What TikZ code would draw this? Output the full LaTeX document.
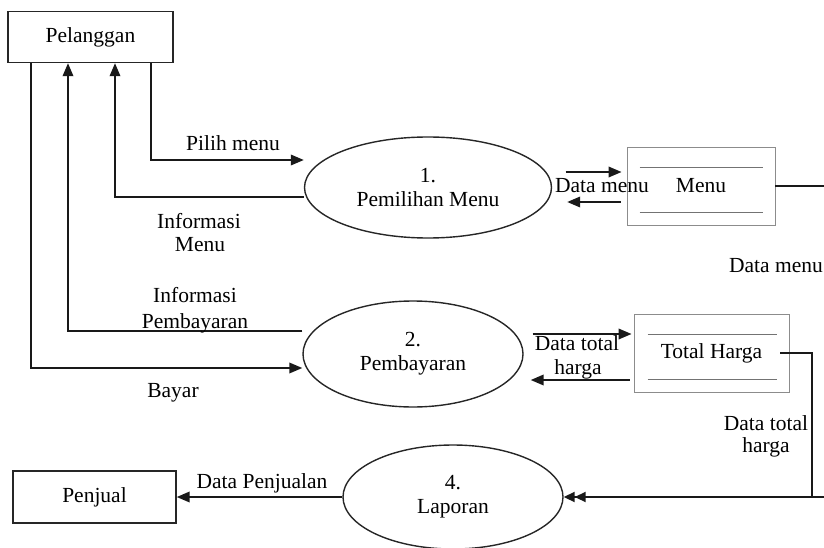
\documentclass[tikz,border=0pt]{standalone}
\usepackage{fontspec}
\setmainfont{Liberation Serif}
\usetikzlibrary{shapes.geometric,arrows.meta}
\newcommand\dfdfont{\fontsize{21.5}{24}\selectfont}
\begin{document}
\begin{tikzpicture}[x=1pt,y=-1pt,
  ent/.style={draw=black!85, line width=1.4pt, inner sep=0pt, font=\dfdfont},
  proc/.style={ellipse, draw=black!85, line width=1.4pt, align=center, inner sep=0pt, font=\dfdfont},
  store/.style={draw=black!45, line width=0.8pt, inner sep=0pt, font=\dfdfont},
  sline/.style={draw=black!55, line width=1.4pt},
  flow/.style={line width=1.9pt, draw=black!90},
  arr/.style={flow, -{Triangle[length=13pt,width=10.5pt]}},
  lbl/.style={anchor=base, inner sep=0pt, font=\dfdfont}
]
\useasboundingbox (0,0) rectangle (824,548);

% entities
\node[ent, minimum width=165pt, minimum height=51pt] (pel) at (90.5,37) {Pelanggan};
\node[ent, minimum width=163pt, minimum height=52pt] (pen) at (94.5,497) {Penjual};

% processes
\node[proc, minimum width=247pt, minimum height=101pt] (e1) at (428,187.5) {1.\\Pemilihan Menu};
\node[proc, minimum width=220pt, minimum height=106pt] (e2) at (413,354) {2.\\Pembayaran};
\node[proc, minimum width=220pt, minimum height=104pt] (e4) at (453,497) {4.\\Laporan};

% data stores
\node[store, minimum width=148pt, minimum height=78pt] (menu) at (701,186) {Menu};
\draw[sline] ([xshift=13pt,yshift=-21pt]menu.north west) -- ([xshift=-12pt,yshift=-21pt]menu.north east);
\draw[sline] ([xshift=13pt,yshift=13pt]menu.south west) -- ([xshift=-12pt,yshift=13pt]menu.south east);

\node[store, minimum width=155pt, minimum height=78pt] (th) at (711.5,353) {Total Harga};
\draw[sline] ([xshift=14pt,yshift=-21pt]th.north west) -- ([xshift=-12pt,yshift=-21pt]th.north east);
\draw[sline] ([xshift=14pt,yshift=13pt]th.south west) -- ([xshift=-12pt,yshift=13pt]th.south east);

% flows Pelanggan <-> processes
\draw[arr] (pel.south -| 151,0) |- ([yshift=27.5pt]e1.west);
\draw[arr] ([yshift=-9.5pt]e1.west) -| (pel.south -| 115,0);
\draw[arr] ([yshift=23pt]e2.west) -| (pel.south -| 68,0);
\draw[arr] (pel.south -| 31,0) |- ([yshift=-14pt]e2.west);

% flows with Menu store
\draw[arr] ([xshift=13.5pt,yshift=15.5pt]e1.east) -- ([xshift=-5pt,yshift=14pt]menu.west);
\draw[arr] ([xshift=-6pt,yshift=-16pt]menu.west) -- ([xshift=15pt,yshift=-14.5pt]e1.east);

% flows with Total Harga store
\draw[arr] ([xshift=9pt,yshift=20pt]e2.east) -- ([xshift=-2pt,yshift=19pt]th.west);
\draw[arr] ([xshift=-4pt,yshift=-27pt]th.west) -- ([xshift=7pt,yshift=-26pt]e2.east);

% flows into Laporan
\coordinate (off) at (850,497);
\coordinate (j) at (812,497);
\draw[flow] (menu.east) -| (off);
\draw[flow] ([xshift=-9pt]th.east) -| (j);
\draw[flow, -{Triangle[length=11pt,width=10pt] Triangle[length=11pt,width=10pt]}] (off) -- (e4.east);

% Laporan -> Penjual
\draw[arr] (e4.west) -- (e4.west -| pen.east);

% labels
\node[lbl] (lpil) at (233,151) {Pilih menu};
\node[lbl] (lim1) at (199,229) {Informasi};
\node[lbl] (lim2) at (200,251) {Menu};
\node[lbl] (lip1) at (195,302) {Informasi};
\node[lbl] (lip2) at (195,328) {Pembayaran};
\node[lbl] (lbay) at (173,397) {Bayar};
\node[lbl] (ldm1) at (602,193) {Data menu};
\node[lbl] (ldm2) at (776,272) {Data menu};
\node[lbl] (ldt1) at (577,350) {Data total};
\node[lbl] (ldt2) at (578,374) {harga};
\node[lbl] (ldt3) at (766,430) {Data total};
\node[lbl] (ldt4) at (766,452) {harga};
\node[lbl] (ldp) at (262,488) {Data Penjualan};
\end{tikzpicture}
\end{document}
